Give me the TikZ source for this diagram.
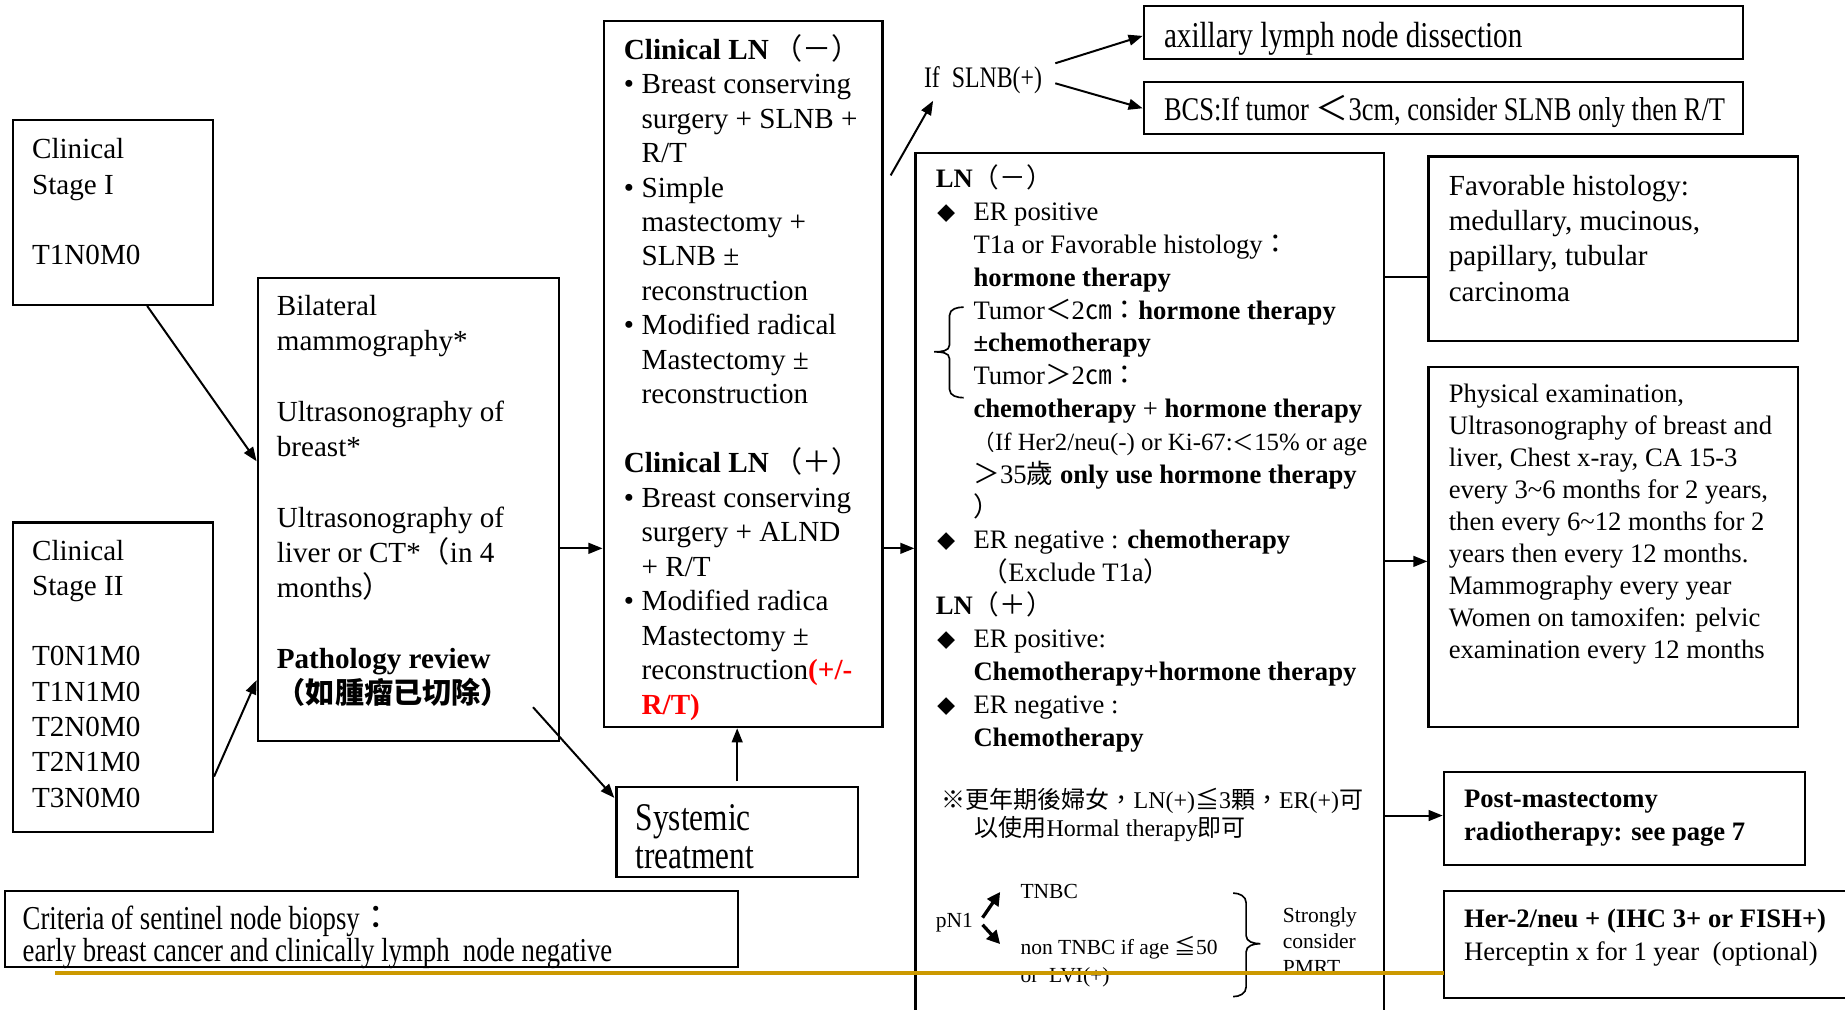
\documentclass[tikz,border=0pt]{standalone}
\usepackage{fontspec}
\setmainfont{Liberation Serif}
\newfontfamily\cjk{Noto Sans CJK TC}
\newfontfamily\narrowfont{Liberation Serif}[FakeStretch=0.8]
\usetikzlibrary{arrows.meta}
\usetikzlibrary{fit}

\definecolor{rulegold}{RGB}{204,153,0}

\newcommand{\cj}[1]{{\cjk #1}}
\newcommand{\clbul}{\makebox[10.7pt][l]{•}}
\newcommand{\clind}{\hspace*{10.7pt}}
\newcommand{\lnmark}{\makebox[22.8pt][l]{\hspace{1pt}{\cjk\fontsize{11}{11}\selectfont ◆}}}
\newcommand{\lnind}{\hspace*{22.8pt}}

\tikzset{
  boxst/.style={draw, line width=1.3pt, inner sep=0pt},
  txt/.style={align=left, inner sep=0pt, anchor=base west},
  maintxt/.style={txt, font={\fontsize{17.6}{21.34}\selectfont}},
  cltxt/.style={txt, font={\fontsize{17.6}{20.84}\selectfont}},
  lntxt/.style={txt, font={\fontsize{16.1}{19.85}\selectfont}},
  phystxt/.style={txt, font={\fontsize{16.1}{19.35}\selectfont}},
  posttxt/.style={txt, font={\fontsize{16.1}{19.6}\selectfont}},
  smalltxt/.style={txt, font={\fontsize{13}{15.6}\selectfont}},
  notetxt/.style={txt, font={\fontsize{14.5}{17.1}\selectfont}},
  arr/.style={line width=1.2pt, -{Triangle[length=8.5pt,width=6.5pt]}},
  bigarr/.style={line width=2pt, -{Triangle[length=8pt,width=8pt]}},
  goldrule/.style={rulegold, line width=2pt}
}

\begin{document}
\begin{tikzpicture}[x=0.025cm, y=-0.025cm]
\useasboundingbox (0,0) rectangle (1568,858);

% boxes
\node[boxst, fit={(11,102) (181,259)}] (stageone) {};
\node[boxst, fit={(11,444) (181,707)}] (stagetwo) {};
\node[boxst, fit={(219,236) (475,630)}] (bilat) {};
\node[boxst, fit={(513,18) (750,618)}] (clin) {};
\node[boxst, fit={(524,669) (729,745)}] (syst) {};
\node[boxst, fit={(4,757) (627,822)}] (crit) {};
\node[boxst, fit={(972,5) (1481,50)}] (axil) {};
\node[boxst, fit={(972,70) (1481,114)}] (bcs) {};
\node[boxst, fit={(778,130) (1176,900)}] (lnbox) {};
\node[boxst, fit={(1214,133) (1528,290)}] (fav) {};
\node[boxst, fit={(1214,312) (1528,618)}] (phys) {};
\node[boxst, fit={(1227,656) (1534,735)}] (post) {};
\node[boxst, fit={(1227,757) (1600,848)}] (her) {};

% texts (placed at the baseline of their last line)
\node[maintxt] (stageonetxt) at (27,225) {Clinical\\Stage I\\ \mbox{}\\T1N0M0};
\node[maintxt] (stagetwotxt) at (27,686) {Clinical\\Stage II\\ \mbox{}\\T0N1M0\\T1N1M0\\T2N0M0\\T2N1M0\\T3N0M0};
\node[maintxt] (bilattxt) at (235,598) {Bilateral\\mammography*\\ \mbox{}\\Ultrasonography of\\breast*\\ \mbox{}\\Ultrasonography of\\liver or CT*\cj{（}in 4\\months\cj{）}\\ \mbox{}\\\textbf{Pathology review}\\{\cjk\bfseries （如腫瘤已切除）}};
\node[cltxt] (clintxt) at (530,607) {\textbf{Clinical LN}\,\cj{（－）}\\
  \clbul Breast conserving\\
  \clind surgery + SLNB +\\
  \clind R/T\\
  \clbul Simple\\
  \clind mastectomy +\\
  \clind SLNB ±\\
  \clind reconstruction\\
  \clbul Modified radical\\
  \clind Mastectomy ±\\
  \clind reconstruction\\
  \mbox{}\\
  \textbf{Clinical LN}\,\cj{（＋）}\\
  \clbul Breast conserving\\
  \clind surgery + ALND\\
  \clind + R/T\\
  \clbul Modified radica\\
  \clind Mastectomy ±\\
  \clind reconstruction\textcolor{red}{\textbf{(+/-}}\\
  \clind\textcolor{red}{\textbf{R/T)}}};
\node[txt, font={\narrowfont\fontsize{23.7}{22.8}\selectfont}] (systtxt) at (540,738) {Systemic\\treatment};
\node[txt, font={\narrowfont\fontsize{20.2}{19.2}\selectfont}] (crittxt) at (19,817) {Criteria of sentinel node biopsy\cj{：}\\early breast cancer and clinically lymph\ \ node negative};
\node[txt, font={\narrowfont\fontsize{18}{21}\selectfont}] (ifslnb) at (785,74) {If\ \ SLNB(+)};
\node[txt, font={\narrowfont\fontsize{22}{26}\selectfont}] (axiltxt) at (989,40) {axillary lymph node dissection};
\node[txt, font={\narrowfont\fontsize{20}{24}\selectfont}] (bcstxt) at (989,102) {BCS:If tumor \cj{＜}3cm, consider SLNB only then R/T};

% LN box
\node[lntxt] (lntxt) at (795,634) {\textbf{LN}\cj{（－）}\\
  \lnmark ER positive\\
  \lnind T1a or Favorable histology\cj{：}\\
  \lnind\textbf{hormone therapy}\\
  \lnind Tumor\cj{＜}2\cj{㎝：}\textbf{hormone therapy}\\
  \lnind\textbf{±chemotherapy}\\
  \lnind Tumor\cj{＞}2\cj{㎝：}\\
  \lnind\textbf{chemotherapy} + \textbf{hormone therapy}\\
  \lnind{\fontsize{15}{19.85}\selectfont{\cjk\fontsize{13}{19.85}\selectfont （}If Her2/neu(-) or Ki-67:{\cjk\fontsize{13}{19.85}\selectfont ＜}15\% or age}\\
  \lnind\cj{＞}35\cj{歲} \textbf{only use hormone therapy}\\
  \lnind\cj{）}\\
  \lnmark ER negative : \textbf{chemotherapy}\\
  \lnind\hspace*{5pt}\cj{（}Exclude T1a\cj{）}\\
  \textbf{LN}\cj{（＋）}\\
  \lnmark ER positive:\\
  \lnind\textbf{Chemotherapy+hormone therapy}\\
  \lnmark ER negative :\\
  \lnind\textbf{Chemotherapy}};
\node[notetxt] (notetxt) at (800,711) {\cj{※更年期後婦女，}LN(+)\cj{≦}3\cj{顆，}ER(+)\cj{可}\\
  \hspace*{19.9pt}\cj{以使用}Hormal therapy\cj{即可}};
\node[smalltxt] (pnone) at (795,788) {pN1};
\node[smalltxt] (tnbc) at (867,764) {TNBC};
\node[smalltxt, font={\fontsize{13}{17}\selectfont}] (nontnbc) at (867,835) {non TNBC if age \cj{≦}50\\or\ \ LVI(+)};
\node[smalltxt] (pmrt) at (1090,828) {Strongly\\consider\\PMRT};

% right column
\node[maintxt] (favtxt) at (1231,256) {Favorable histology:\\medullary, mucinous,\\papillary, tubular\\carcinoma};
\node[phystxt] (phystxt) at (1231,560) {Physical examination,\\Ultrasonography of breast and\\liver, Chest x-ray, CA 15-3\\every 3\textasciitilde6 months for 2 years,\\then every 6\textasciitilde12 months for 2\\years then every 12 months.\\Mammography every year\\Women on tamoxifen: pelvic\\examination every 12 months};
\node[posttxt, font={\bfseries\fontsize{16.1}{19.6}\selectfont}] (posttxt) at (1244,714) {Post-mastectomy\\radiotherapy: see page 7};
\node[posttxt] (hertxt) at (1244,816) {\textbf{Her-2/neu + (IHC 3+ or FISH+)}\\Herceptin x for 1 year\ \ (optional)};

% connectors
\draw[arr] ([shift={(29,0)}]stageone.south) -- ([shift={(0,-41)}]bilat.west);
\draw[arr] ([shift={(0,84.5)}]stagetwo.east) -- ([shift={(0,145)}]bilat.west);
\coordinate (bilatout) at ([shift={(0,33)}]bilat.east);
\draw[arr] (bilatout) -- (bilatout -| clin.west);
\coordinate (pathtail) at (453,601);
\draw[arr] (pathtail) -- ([shift={(-1,10)}]syst.north west);
\draw[arr] ([shift={(0,-4)}]syst.north) -- (syst.north |- clin.south);
\coordinate (clinout) at ([shift={(0,148)}]clin.east);
\draw[arr] (clinout) -- (clinout -| lnbox.west);
\draw[arr] ([shift={(6,132)}]clin.north east) -- ([shift={(8,6)}]ifslnb.south west);
\draw[arr] ([shift={(11,-14)}]ifslnb.east) -- ([shift={(0,3)}]axil.west);
\draw[arr] ([shift={(11,3)}]ifslnb.east) -- (bcs.west);
\coordinate (lnfav) at ([shift={(0,106)}]lnbox.north east);
\draw[line width=1.2pt] (lnfav) -- (lnfav -| fav.west);
\coordinate (lnphys) at ([shift={(0,348)}]lnbox.north east);
\draw[arr] (lnphys) -- (lnphys -| phys.west);
\coordinate (lnpost) at ([shift={(0,564)}]lnbox.north east);
\draw[arr] (lnpost) -- (lnpost -| post.west);
\draw[bigarr] ([shift={(8,-4)}]pnone.east) -- ([shift={(-17,0)}]tnbc.west);
\draw[bigarr] ([shift={(8,2)}]pnone.east) -- ([shift={(-17,7)}]nontnbc.north west);

% braces
\draw[line width=1pt] (819,261) to[out=180,in=90] (807,268) -- (807,293) to[out=-90,in=0] (794,299)
  to[out=0,in=90] (807,305) -- (807,331) to[out=-90,in=180] (819,338);
\draw[line width=1pt] (1048,759) to[out=0,in=90] (1059,767) -- (1059,795) to[out=-90,in=180] (1071,802)
  to[out=180,in=90] (1059,809) -- (1059,839) to[out=-90,in=0] (1048,847);

% page rule
\draw[goldrule] (47,827) -- (1227,827);
\end{tikzpicture}
\end{document}
